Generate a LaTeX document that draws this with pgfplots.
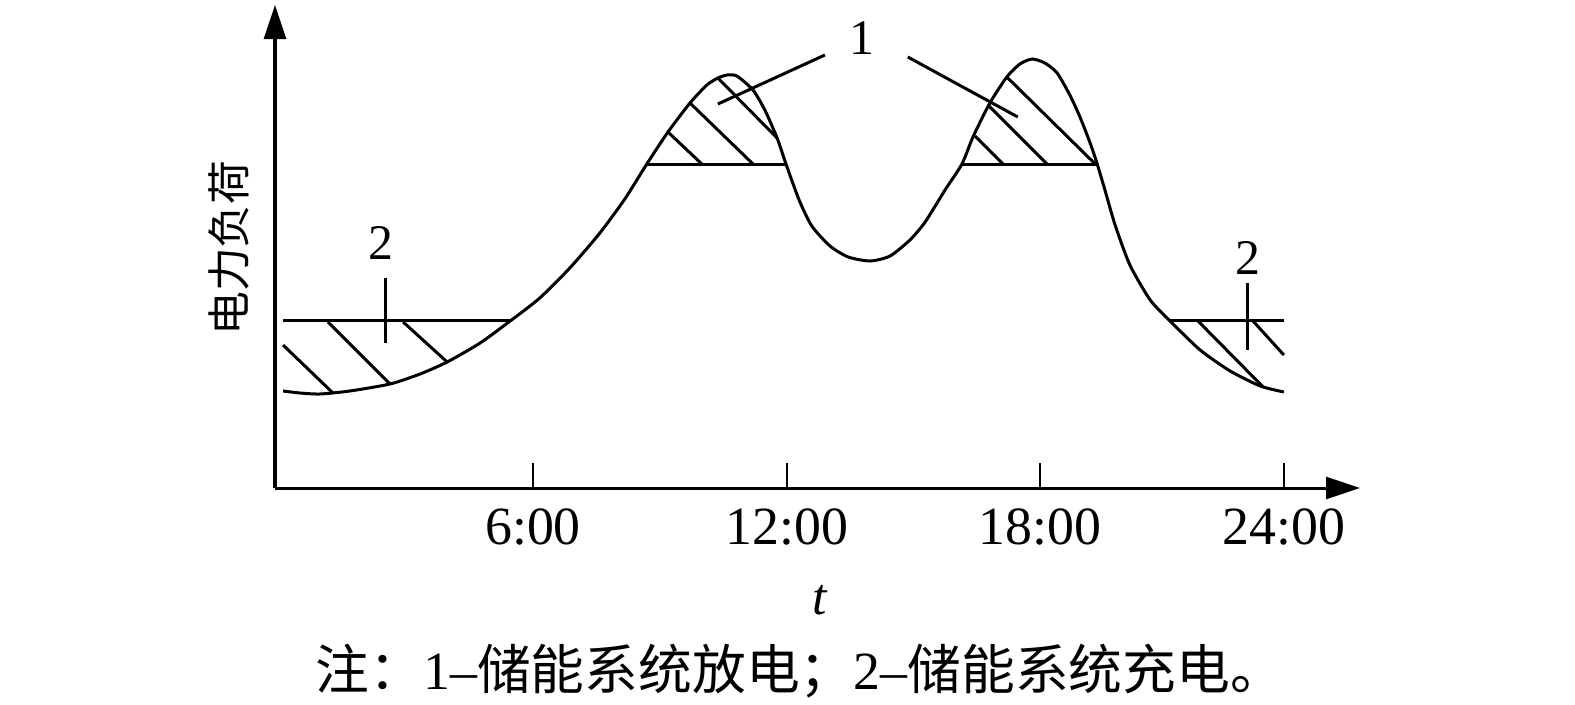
\documentclass[border=0pt]{standalone}
\usepackage{fontspec}
\setmainfont{Liberation Serif}
\newfontfamily\cjk{Noto Sans CJK SC}
\usepackage{pgfplots}
\pgfplotsset{compat=1.18}
\usetikzlibrary{arrows.meta}
\tikzset{ln/.style={black, solid, line width=3bp, mark=none}}
\begin{document}
\begin{tikzpicture}
\path[use as bounding box] (-275bp,-217bp) rectangle (1300bp,488bp);
\begin{axis}[
  at={(0,0)}, anchor=origin,
  x=42.3bp, y=1bp,
  xmin=0, xmax=25.65, ymin=0, ymax=483,
  axis lines=left,
  axis line style={line width=3bp, -{Triangle[length=34bp,width=22bp]}},
  xtick={6.10,12.10,18.09,23.85},
  xticklabels={6:00,12:00,18:00,24:00},
  ytick=\empty,
  tick align=inside,
  major tick length=25bp,
  tick style={line width=2.2bp, black},
  xticklabel style={font=\fontsize{54}{58}\selectfont, yshift=-17bp},
  clip=false,
]
% load curve
\addplot[ln, smooth, tension=0.4] coordinates {
(0.19,97)(0.59,95)(1.06,94)(1.77,97)(2.72,104)(3.43,114)(4.07,126)(4.85,145)
(5.56,167)(6.26,190)(6.97,220)(7.68,255)(8.27,289)(8.79,324)(9.29,356)(9.81,385)
(10.21,403)(10.47,410)(10.69,413)(10.92,412)(11.30,398)(11.58,378)(11.87,350)
(12.08,324)(12.39,288)(12.69,262)(13.12,242)(13.55,231)(14.07,227)(14.54,232)
(15.01,248)(15.37,266)(15.84,298)(16.24,324)(16.50,351)(16.90,385)(17.30,411)
(17.61,424)(17.90,429)(18.20,425)(18.49,415)(18.79,393)(19.03,371)(19.27,345)
(19.43,325)(19.62,298)(19.86,263)(20.21,223)(20.69,188)(21.16,167)(21.87,138)
(22.58,117)(23.29,102)(23.85,96)};
% levelling lines
\addplot[ln] coordinates {(0.19,168)(5.56,168)};
\addplot[ln] coordinates {(21.16,168)(23.85,168)};
\addplot[ln] coordinates {(8.79,324)(12.08,324)};
\addplot[ln] coordinates {(16.24,324)(19.43,324)};
% hatching
\addplot[ln] coordinates {(0.19,143)(1.37,95)};
\addplot[ln] coordinates {(1.25,166)(2.72,104)};
\addplot[ln] coordinates {(3.03,166)(4.07,126)};
\addplot[ln] coordinates {(9.29,356)(10.09,324)};
\addplot[ln] coordinates {(9.81,385)(11.30,324)};
\addplot[ln] coordinates {(10.47,410)(11.87,350)};
\addplot[ln] coordinates {(16.55,352)(17.21,324)};
\addplot[ln] coordinates {(16.88,382)(18.25,324)};
\addplot[ln] coordinates {(17.30,411)(19.39,324)};
\addplot[ln] coordinates {(21.82,167)(23.36,101)};
\addplot[ln] coordinates {(23.12,167)(23.85,133)};
% markers and leaders
\addplot[ln] coordinates {(2.62,210)(2.62,145)};
\addplot[ln] coordinates {(22.98,205)(22.98,138)};
\addplot[ln] coordinates {(10.47,384)(13.00,433)};
\addplot[ln] coordinates {(14.96,431)(17.56,371)};
% labels
\node[font=\fontsize{50}{54}\selectfont] at (axis cs:13.88,450) {1};
\node[font=\fontsize{50}{54}\selectfont] at (axis cs:2.51,245) {2};
\node[font=\fontsize{50}{54}\selectfont] at (axis cs:23.0,230) {2};
\node[font=\fontsize{52}{56}\selectfont\itshape] at (axis cs:12.87,-112) {t};
\node[rotate=90, font=\fontsize{44}{50}\selectfont\cjk] at (axis cs:-1.10,240) {电力负荷};
\node[font=\fontsize{54}{58}\selectfont] at (axis cs:12.41,-183) {{\cjk 注：}1–{\cjk 储能系统放电；}2–{\cjk 储能系统充电。}};
\end{axis}
\end{tikzpicture}
\end{document}
